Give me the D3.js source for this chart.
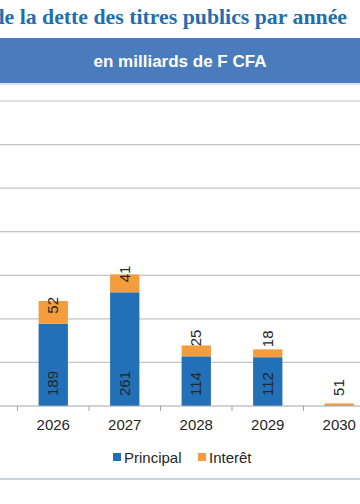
<!DOCTYPE html>
<html>
<head>
<meta charset="utf-8">
<script src="https://cdn.jsdelivr.net/npm/d3@7"></script>
<style>
  html, body { margin: 0; padding: 0; background: #ffffff; }
  svg { display: block; }
</style>
</head>
<body>
<svg id="chart" width="360" height="504"></svg>
<script>
// ---- data ----
const years = ["2026", "2027", "2028", "2029", "2030"];
const principal = [189, 261, 114, 112, 1];
const interet = [52, 41, 25, 18, 5];
const seriesNames = ["Principal", "Interêt"];
const yTicks = [0, 100, 200, 300, 400, 500, 600, 700];
const titleText = "de la dette des titres publics par année";
const subtitleText = "en milliards de F CFA";

// ---- styles ----
const colBlue = "#2170b8";
const colOrange = "#f59d3d";
const svg = d3.select("#chart");

// title (cropped at left)
svg.append("text")
  .attr("x", 347).attr("y", 24)
  .attr("text-anchor", "end")
  .attr("font-family", "Liberation Serif, Times New Roman, serif")
  .attr("font-weight", "bold")
  .attr("font-size", 21.8)
  .attr("fill", "#1e6fb0")
  .text(titleText);

// blue band
svg.append("rect").attr("x", 0).attr("y", 38).attr("width", 360).attr("height", 45)
  .attr("fill", "#4a7cbd");
svg.append("rect").attr("x", 0).attr("y", 83).attr("width", 360).attr("height", 2)
  .attr("fill", "#dbe5f3");
svg.append("text")
  .attr("x", 180).attr("y", 67)
  .attr("text-anchor", "middle")
  .attr("font-family", "Liberation Sans, Arial, sans-serif")
  .attr("font-weight", "bold")
  .attr("font-size", 17)
  .attr("fill", "#ffffff")
  .text(subtitleText);

// scales
const x = d3.scaleBand().domain(years).range([17.5, 375]).paddingInner(0.59).paddingOuter(0.295);
const y = d3.scaleLinear().domain([0, 700]).range([406, 101]);

// gridlines
svg.append("g").selectAll("line").data(yTicks.slice(1)).join("line")
  .attr("x1", 0).attr("x2", 360)
  .attr("y1", d => y(d)).attr("y2", d => y(d))
  .attr("stroke", "#c4c4c4").attr("stroke-width", 1.2);

// stacked data
const rows = years.map((yr, i) => ({ year: yr, Principal: principal[i], "Interêt": interet[i] }));
const stack = d3.stack().keys(seriesNames)(rows);
const colors = [colBlue, colOrange];

stack.forEach((s, si) => {
  svg.append("g").selectAll("rect").data(s).join("rect")
    .attr("x", d => x(d.data.year))
    .attr("width", x.bandwidth())
    .attr("y", d => y(d[1]))
    .attr("height", d => y(d[0]) - y(d[1]))
    .attr("fill", colors[si]);
});

// x axis
const xAxisScale = d3.scaleBand().domain(years).range([17.5, 375]);
const axisG = svg.append("g").attr("transform", "translate(0,406)");
axisG.append("line").attr("x1", 0).attr("x2", 360).attr("y1", 0).attr("y2", 0)
  .attr("stroke", "#a6a6a6").attr("stroke-width", 1.2);
axisG.selectAll("line.tick").data(years).join("line").attr("class", "tick")
  .attr("x1", d => xAxisScale(d)).attr("x2", d => xAxisScale(d))
  .attr("y1", 0).attr("y2", 5).attr("stroke", "#a6a6a6");
axisG.selectAll("text").data(years).join("text")
  .attr("x", d => x(d) + x.bandwidth() / 2)
  .attr("y", 24)
  .attr("text-anchor", "middle")
  .attr("font-family", "Liberation Sans, Arial, sans-serif")
  .attr("font-size", 15)
  .attr("fill", "#262626")
  .text(d => d);

// value labels (rotated)
const labelFont = "Liberation Sans, Arial, sans-serif";
rows.forEach((r, i) => {
  const cx = x(r.year) + x.bandwidth() / 2 + 5;
  const pTop = y(r.Principal);
  const pH = y(0) - pTop;
  const smallP = pH < 30;
  const iStart = smallP ? y(0) - 10 : pTop - 10;
  const iLabelLen = String(r["Interêt"]).length * 8.4;
  svg.append("text")
    .attr("transform", `translate(${cx},${iStart}) rotate(-90)`)
    .attr("font-family", labelFont).attr("font-size", 15).attr("fill", "#262626")
    .text(r["Interêt"]);
  const pStart = smallP ? iStart - iLabelLen : y(0) - 10;
  svg.append("text")
    .attr("transform", `translate(${cx},${pStart}) rotate(-90)`)
    .attr("font-family", labelFont).attr("font-size", 15).attr("fill", "#262626")
    .text(r.Principal);
});

// legend
const legend = svg.append("g").attr("transform", "translate(0,457)");
const legendItems = [{ name: seriesNames[0], color: colBlue, x: 113 }, { name: seriesNames[1], color: colOrange, x: 198 }];
legendItems.forEach(it => {
  legend.append("rect").attr("x", it.x).attr("y", -4).attr("width", 8).attr("height", 8).attr("fill", it.color);
  legend.append("text").attr("x", it.x + 11).attr("y", 5.5)
    .attr("font-family", labelFont).attr("font-size", 15).attr("fill", "#262626")
    .text(it.name);
});

// bottom rule
svg.append("rect").attr("x", 0).attr("y", 478).attr("width", 360).attr("height", 2).attr("fill", "#c9d1de");
</script>
</body>
</html>
